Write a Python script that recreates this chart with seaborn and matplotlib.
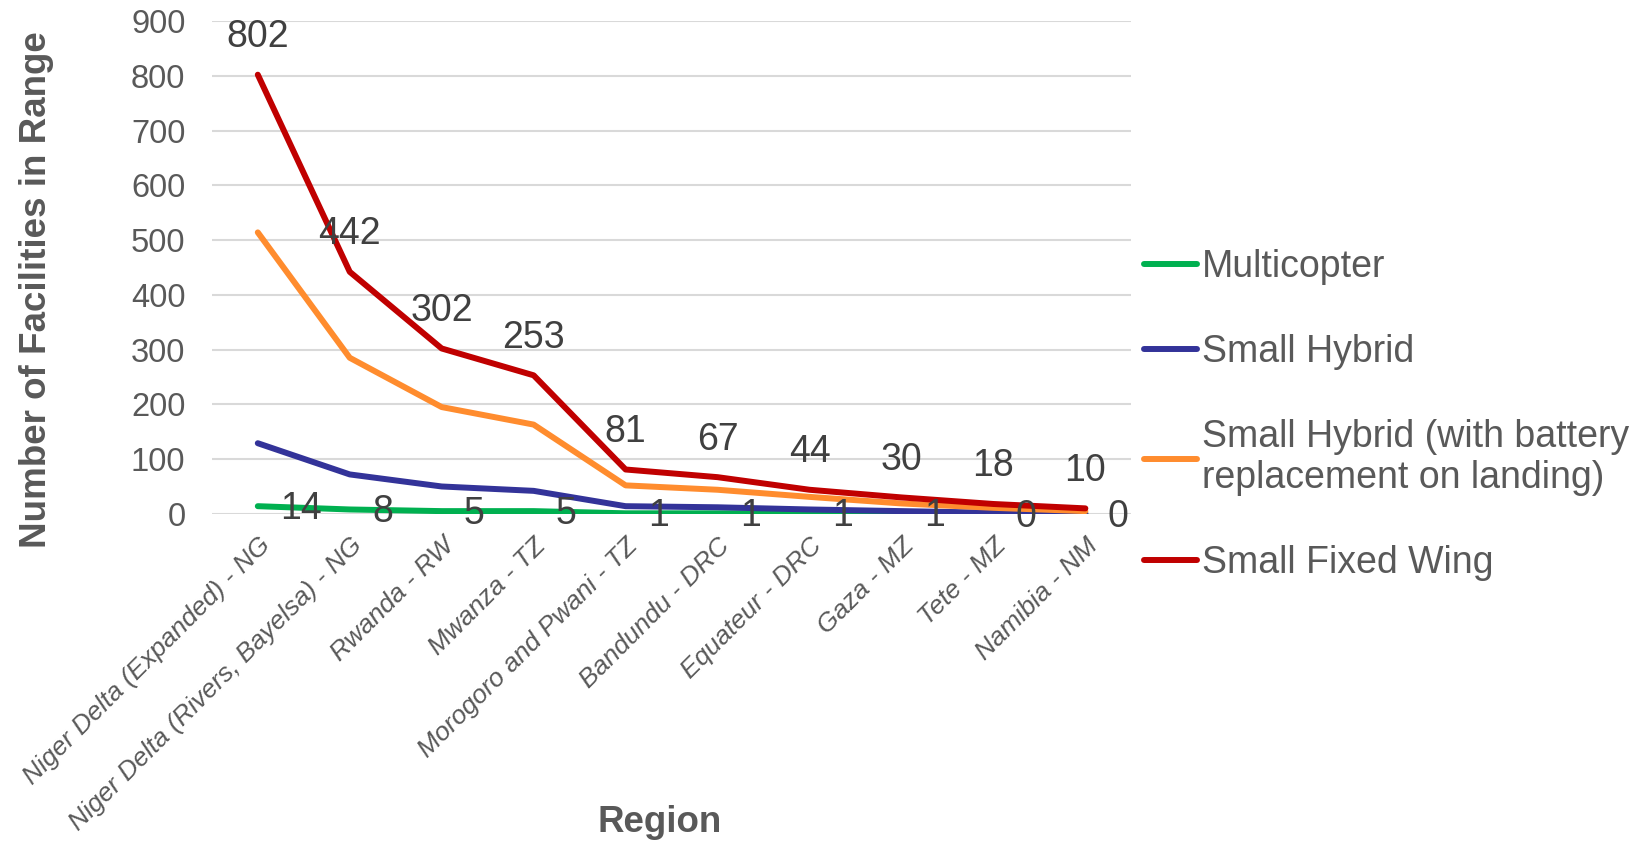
import matplotlib
matplotlib.use("Agg")
import matplotlib.pyplot as plt
import seaborn as sns
import pandas as pd

regions = [
    "Niger Delta (Expanded) - NG",
    "Niger Delta (Rivers, Bayelsa) - NG",
    "Rwanda - RW",
    "Mwanza - TZ",
    "Morogoro and Pwani - TZ",
    "Bandundu - DRC",
    "Equateur - DRC",
    "Gaza - MZ",
    "Tete - MZ",
    "Namibia - NM",
]
multicopter = [14, 8, 5, 5, 1, 1, 1, 1, 0, 0]
small_hybrid = [129, 72, 50, 42, 14, 12, 8, 5, 2, 1]
small_hybrid_battery = [514, 285, 195, 163, 52, 44, 31, 19, 11, 5]
small_fixed_wing = [802, 442, 302, 253, 81, 67, 44, 30, 18, 10]

series_names = [
    "Multicopter",
    "Small Hybrid",
    "Small Hybrid (with battery\nreplacement on landing)",
    "Small Fixed Wing",
]
series_values = [multicopter, small_hybrid, small_hybrid_battery, small_fixed_wing]
colors = ["#00B050", "#333399", "#FF8C2E", "#C00000"]

rows = []
for name, vals in zip(series_names, series_values):
    for reg, v in zip(regions, vals):
        rows.append({"Region": reg, "Series": name, "Value": v})
df = pd.DataFrame(rows)

sns.set_theme(style="white")
plt.rcParams["font.family"] = ["Liberation Sans", "DejaVu Sans"]
text_grey = "#595959"
label_grey = "#404040"
lw = 4.3

fig = plt.figure(figsize=(16.42, 8.41), dpi=100)
ax = fig.add_axes([0.129, 0.389, 0.560, 0.586])

sns.lineplot(data=df, x="Region", y="Value", hue="Series", palette=colors,
             hue_order=series_names, linewidth=lw, ax=ax, sort=False,
             solid_capstyle="round", solid_joinstyle="round")

ax.set_xlim(-0.5, len(regions) - 0.5)
ax.set_ylim(0, 900)
ax.set_yticks(range(0, 901, 100))
ax.yaxis.grid(True, color="#D9D9D9", linewidth=1.5)
ax.set_axisbelow(True)
for s in ax.spines.values():
    s.set_visible(False)
ax.tick_params(axis="y", length=0, labelsize=23.5, labelcolor=text_grey, pad=19)
ax.tick_params(axis="x", length=0, labelsize=19, labelcolor=text_grey, pad=14)
ax.set_xticks(range(len(regions)))
ax.set_xticklabels(regions, rotation=45, ha="right", rotation_mode="anchor",
                   fontstyle="italic")

ax.set_xlabel("Region", fontsize=26.5, fontweight="bold", color=text_grey)
ax.set_ylabel("Number of Facilities in Range", fontsize=26.5, fontweight="bold",
              color=text_grey)
ax.xaxis.set_label_coords(0.487, -0.59)
ax.yaxis.set_label_coords(-0.172, 0.455)

# Data labels: Multicopter to the right, Small Fixed Wing above
for i, v in enumerate(multicopter):
    ax.annotate(str(v), (i, v), xytext=(16, -2), textcoords="offset points",
                ha="left", va="center", fontsize=27, color=label_grey)
for i, v in enumerate(small_fixed_wing):
    ax.annotate(str(v), (i, v), xytext=(0, 27), textcoords="offset points",
                ha="center", va="center", fontsize=27, color=label_grey)

handles, labels = ax.get_legend_handles_labels()
leg = ax.legend(handles, labels, loc="center left", bbox_to_anchor=(1.014, 0.2),
                frameon=False, fontsize=27, handlelength=1.42, handletextpad=0.12,
                labelspacing=1.3, borderaxespad=0, borderpad=0,
                labelcolor=text_grey)
for line in leg.get_lines():
    line.set_linewidth(lw)

fig.savefig("out.png", dpi=100)
